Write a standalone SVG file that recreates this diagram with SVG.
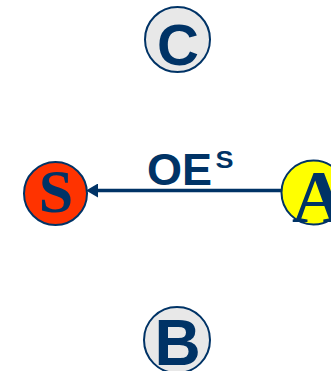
<svg xmlns="http://www.w3.org/2000/svg" width="331" height="371" viewBox="0 0 331 371">
  <defs>
    <marker id="head" viewBox="0 0 12 14" refX="0" refY="7" markerWidth="12" markerHeight="14" markerUnits="userSpaceOnUse" orient="auto-start-reverse">
      <path d="M0,0 L12,7 L0,14 Z" fill="#003366"/>
    </marker>
  </defs>
  <style>
    .ring { stroke: #003366; stroke-width: 2; }
    .sans { font-family: "Liberation Sans", Arial, sans-serif; font-weight: bold; fill: #003366; }
    .serif { font-family: "Liberation Serif", "Times New Roman", serif; font-weight: bold; fill: #003366; }
  </style>
  <rect width="331" height="371" fill="#FFFFFF"/>

  <g id="connectors">
    <line x1="281" y1="190.5" x2="98" y2="190.5" stroke="#003366" stroke-width="3.3" marker-end="url(#head)"/>
    <text class="sans" x="147" y="185" font-size="45">OE<tspan x="215.5" y="168" font-size="24" textLength="18" lengthAdjust="spacingAndGlyphs">S</tspan></text>
  </g>

  <g id="node-C">
    <circle class="ring" cx="177.5" cy="39.5" r="32.5" fill="#E8E8E8"/>
    <text class="sans" x="178" y="65" font-size="58" text-anchor="middle">C</text>
  </g>

  <g id="node-S">
    <circle class="ring" cx="55.5" cy="193.5" r="31.5" fill="#FF3300"/>
    <text class="serif" x="56" y="212" font-size="62" text-anchor="middle">S</text>
  </g>

  <g id="node-A">
    <circle class="ring" cx="313.5" cy="192.5" r="32" fill="#FFFF00"/>
    <text class="serif" x="292" y="222" font-size="74">A</text>
  </g>

  <g id="node-B">
    <circle class="ring" cx="177" cy="340" r="33" fill="#E8E8E8"/>
    <text class="sans" x="177.5" y="365" font-size="64" text-anchor="middle">B</text>
  </g>
</svg>
